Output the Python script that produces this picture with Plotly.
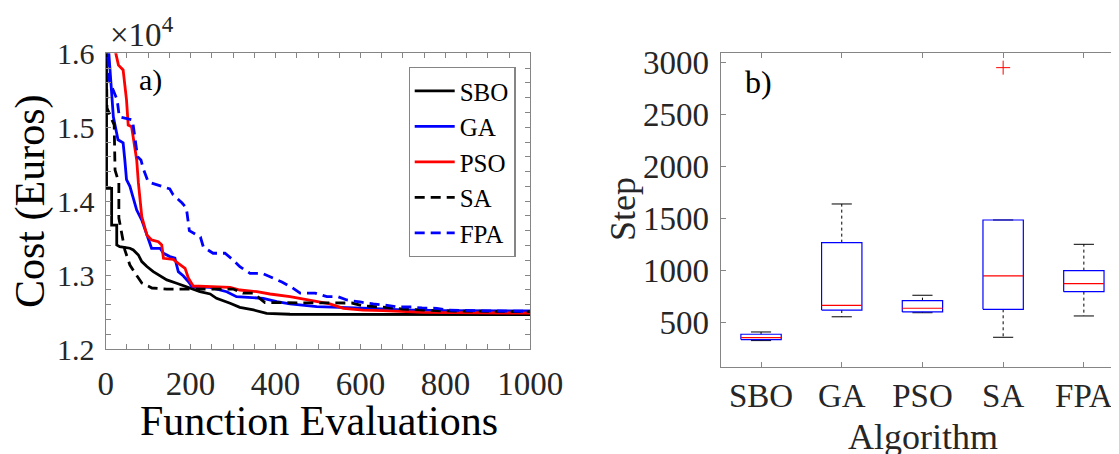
import plotly.graph_objects as go

# ---------------- Data: panel a) convergence curves (Cost in Euros) ----------------
sbo_x = [2, 2, 14, 14, 26, 26, 33, 57, 65, 77, 85, 97, 112, 128, 144, 167, 191, 222, 246, 261, 293, 316, 348, 379, 434, 1000]
sbo_y = [16600, 14174, 14174, 13677, 13677, 13407, 13385, 13363, 13340, 13272, 13182, 13115, 13047, 12988, 12935, 12890,
         12845, 12777, 12745, 12686, 12618, 12564, 12528, 12483, 12470, 12465]

ga_x = [0, 8, 12, 18, 29, 41, 45, 49, 57, 61, 73, 85, 93, 100, 108, 128, 136, 151, 163, 171, 183, 195, 203, 246, 285,
        308, 371, 403, 434, 497, 575, 622, 700, 800, 1000]
ga_y = [16600, 16000, 15600, 15140, 14830, 14790, 14560, 14290, 14200, 14110, 13880, 13745, 13610, 13475, 13362, 13362,
        13295, 13250, 13228, 13046, 12988, 12910, 12843, 12834, 12775, 12708, 12686, 12640, 12609, 12572, 12563, 12550,
        12530, 12520, 12515]

pso_x = [15, 22, 30, 41, 49, 53, 61, 69, 73, 77, 81, 85, 97, 108, 124, 132, 136, 159, 171, 187, 195, 206, 293, 316, 356,
         387, 434, 481, 528, 560, 606, 653, 750, 1000]
pso_y = [16600, 16045, 15840, 15775, 15370, 15030, 15007, 14737, 14557, 14246, 14016, 13790, 13542, 13475, 13452, 13407,
         13227, 13213, 13159, 13092, 12956, 12852, 12834, 12798, 12775, 12744, 12708, 12663, 12609, 12550, 12527, 12518,
         12495, 12485]

sa_x = [0, 3, 3, 20, 22, 31, 31, 45, 57, 69, 85, 109, 144, 300, 323, 347, 375, 580, 607, 650, 700, 800, 1000]
sa_y = [16600, 15600, 15260, 15030, 14420, 14250, 13772, 13340, 13136, 13028, 12893, 12825, 12811, 12811, 12757, 12757,
        12627, 12622, 12582, 12568, 12540, 12515, 12505]

fpa_x = [0, 6, 8, 27, 32, 63, 75, 83, 88, 100, 120, 151, 159, 180, 190, 197, 223, 230, 253, 281, 300, 316, 340, 368, 394,
         415, 439, 458, 493, 521, 547, 568, 599, 630, 658, 686, 721, 745, 780, 806, 900, 1000]
fpa_y = [16600, 15975, 15640, 15370, 15140, 15100, 14602, 14557, 14448, 14260, 14220, 14165, 14085, 13975, 13907, 13600,
         13515, 13380, 13295, 13295, 13205, 13114, 13024, 13024, 12960, 12906, 12830, 12757, 12757, 12708, 12708, 12663,
         12636, 12609, 12595, 12568, 12568, 12555, 12550, 12527, 12515, 12510]

cost_tick_vals = [12000, 13000, 14000, 15000, 16000]
cost_tick_text = ["1.2", "1.3", "1.4", "1.5", "1.6"]
eval_tick_vals = [0, 200, 400, 600, 800, 1000]

# ---------------- Data: panel b) box statistics (Step) ----------------
algorithms = ["SBO", "GA", "PSO", "SA", "FPA"]
q1 = [334, 618, 600, 625, 795]
median = [352, 662, 635, 946, 872]
q3 = [385, 1266, 708, 1484, 997]
lower_whisker = [324, 553, 592, 356, 561]
upper_whisker = [407, 1638, 760, 1484, 1250]
outlier_alg = [4]
outlier_val = [2949]
step_tick_vals = [500, 1000, 1500, 2000, 2500, 3000]

# ---------------- Styling ----------------
PAGE_W, PAGE_H = 1119, 454
BODY = 8                      # default page margin of the HTML body
W, H = PAGE_W - BODY, PAGE_H - BODY
FAM = "Liberation Serif"
TXT = "#262626"
AX = "#858585"
BOX_W = 0.25   # half box width
CAP_W = 0.125  # half cap width


def px(x):
    """page pixel -> paper fraction"""
    return (x - BODY) / W


def py(y):
    return 1 - (y - BODY) / H


def f(size, color=TXT):
    return dict(family=FAM, size=size, color=color)


fig = go.Figure()

series = [
    ("SBO", sbo_x, sbo_y, "#000000", "solid"),
    ("GA", ga_x, ga_y, "#0000ff", "solid"),
    ("PSO", pso_x, pso_y, "#ff0000", "solid"),
    ("SA", sa_x, sa_y, "#000000", "10px,6px"),
    ("FPA", fpa_x, fpa_y, "#0000ff", "10px,6px"),
]
for name, xs, ys, col, dash in series:
    fig.add_trace(go.Scatter(x=xs, y=ys, mode="lines", name=name,
                             line=dict(color=col, width=2.8, dash=dash),
                             xaxis="x", yaxis="y", showlegend=True))

# Box plot pieces built from the statistics
bx, by, mx, my, wx, wy, cx, cy = [], [], [], [], [], [], [], []
for i, _ in enumerate(algorithms):
    c = i + 1
    bx += [c - BOX_W, c + BOX_W, c + BOX_W, c - BOX_W, c - BOX_W, None]
    by += [q1[i], q1[i], q3[i], q3[i], q1[i], None]
    mx += [c - BOX_W, c + BOX_W, None]
    my += [median[i], median[i], None]
    wx += [c, c, None, c, c, None]
    wy += [q3[i], upper_whisker[i], None, q1[i], lower_whisker[i], None]
    cx += [c - CAP_W, c + CAP_W, None, c - CAP_W, c + CAP_W, None]
    cy += [upper_whisker[i], upper_whisker[i], None, lower_whisker[i], lower_whisker[i], None]

fig.add_trace(go.Scatter(x=wx, y=wy, mode="lines", line=dict(color="#000000", width=1, dash="3px,3px"),
                         xaxis="x2", yaxis="y2", showlegend=False, hoverinfo="skip"))
fig.add_trace(go.Scatter(x=cx, y=cy, mode="lines", line=dict(color="#000000", width=1),
                         xaxis="x2", yaxis="y2", showlegend=False, hoverinfo="skip"))
fig.add_trace(go.Scatter(x=bx, y=by, mode="lines", line=dict(color="#0000ff", width=1.2),
                         xaxis="x2", yaxis="y2", showlegend=False, hoverinfo="skip"))
fig.add_trace(go.Scatter(x=mx, y=my, mode="lines", line=dict(color="#ff0000", width=1.2),
                         xaxis="x2", yaxis="y2", showlegend=False, hoverinfo="skip"))
fig.add_trace(go.Scatter(x=outlier_alg, y=outlier_val, mode="markers",
                         marker=dict(symbol="cross-thin-open", size=10, color="#ff0000",
                                     line=dict(color="#ff0000", width=1)),
                         xaxis="x2", yaxis="y2", showlegend=False, hoverinfo="skip"))

axis_common = dict(showline=True, linecolor=AX, linewidth=1.3, ticks="inside", ticklen=5,
                   tickcolor=AX, tickwidth=1.2, showgrid=False, zeroline=False, automargin=False)

fig.update_layout(
    width=W, height=H,
    margin=dict(l=0, r=0, t=0, b=0, autoexpand=False),
    paper_bgcolor="white", plot_bgcolor="white",
    font=f(30),
    xaxis=dict(domain=[px(105.7), px(530.3)], range=[0, 1000], anchor="y",
               tickvals=eval_tick_vals, tickfont=f(33), mirror="ticks", ticklabelstandoff=5,
               minor=dict(dtick=50, ticks="inside", ticklen=5, tickcolor=AX, tickwidth=1.2),
               **axis_common),
    yaxis=dict(domain=[py(349), py(53.3)], range=[12000, 16000], anchor="x",
               tickvals=cost_tick_vals, ticktext=cost_tick_text, tickfont=f(30),
               mirror="ticks", ticklabelstandoff=4,
               minor=dict(dtick=200, ticks="inside", ticklen=5, tickcolor=AX, tickwidth=1.2),
               **axis_common),
    xaxis2=dict(domain=[px(720.7), 1], range=[0.5, 0.5 + (PAGE_W - 720.7) / 80.7], anchor="y2",
                tickvals=[1, 2, 3, 4, 5], ticktext=algorithms, tickfont=f(33),
                mirror="ticks", ticklabelstandoff=0, **axis_common),
    yaxis2=dict(domain=[py(366.7), py(53.3)], range=[73, 3087], anchor="x2",
                tickvals=step_tick_vals, tickfont=f(33), ticklabelstandoff=4,
                **axis_common),
    legend=dict(x=px(408.5), y=py(67), xanchor="left", yanchor="top",
                bgcolor="white", bordercolor=AX, borderwidth=1.2,
                font=f(25, "#000000"), itemwidth=40, tracegroupgap=0),
    showlegend=True,
)

ann = [
    dict(text="Cost (Euros)", x=px(30), y=py(201), textangle=-90, font=f(42, "#000000")),
    dict(text="Function Evaluations", x=px(318.5), y=py(421), font=f(42, "#000000")),
    dict(text="\u00d710<sup>4</sup>", x=px(108), y=py(55), xanchor="left", yanchor="bottom", font=f(33)),
    dict(text="a)", x=px(150), y=py(80), font=f(30, "#000000")),
    dict(text="Step", x=px(623), y=py(209), textangle=-90, font=f(36)),
    dict(text="Algorithm", x=px(922.5), y=py(437), font=f(36)),
    dict(text="b)", x=px(758.8), y=py(82), font=f(32, "#000000")),
]
for a in ann:
    a.setdefault("xanchor", "center")
    a.setdefault("yanchor", "middle")
    fig.add_annotation(xref="paper", yref="paper", showarrow=False, **a)

fig.write_html("out.html")
